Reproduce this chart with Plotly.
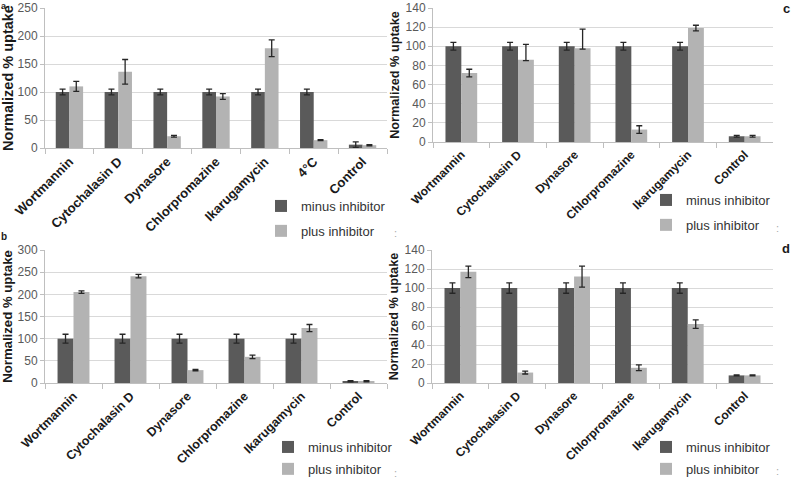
import plotly.graph_objects as go

# ---------------- data ----------------
cats_a = ["Wortmannin", "Cytochalasin D", "Dynasore", "Chlorpromazine", "Ikarugamycin", "4°C", "Control"]
minus_a = [100, 100, 100, 100, 100, 100, 6]
minus_err_a = [5, 5, 5, 5, 5, 5, 5]
plus_a = [110, 136, 21, 92, 178, 14, 5]
plus_err_up_a = [9, 22, 1.5, 5, 15, 1, 1]
plus_err_dn_a = [9, 22, 1.5, 5, 15, 1, 1]

cats_c = ["Wortmannin", "Cytochalasin D", "Dynasore", "Chlorpromazine", "Ikarugamycin", "Control"]
minus_c = [100, 100, 100, 100, 100, 6]
minus_err_c = [4, 4, 4, 4, 4, 1]
plus_c = [72, 86, 98, 13, 119, 6]
plus_err_up_c = [4, 16, 20, 4, 3, 1]
plus_err_dn_c = [4, 1, 1, 4, 3, 1]

cats_b = ["Wortmannin", "Cytochalasin D", "Dynasore", "Chlorpromazine", "Ikarugamycin", "Control"]
minus_b = [100, 100, 100, 100, 100, 4]
minus_err_b = [10, 10, 10, 10, 10, 1.5]
plus_b = [205, 241, 29, 59, 124, 4]
plus_err_up_b = [3, 4, 1.5, 4, 8, 1.5]
plus_err_dn_b = [3, 4, 1.5, 4, 8, 1.5]

cats_d = ["Wortmannin", "Cytochalasin D", "Dynasore", "Chlorpromazine", "Ikarugamycin", "Control"]
minus_d = [100, 100, 100, 100, 100, 8]
minus_err_d = [5.5, 5.5, 5.5, 5.5, 5.5, 0.5]
plus_d = [117, 11, 112, 16, 62, 8]
plus_err_up_d = [6, 1.5, 11, 3, 4.5, 0.5]
plus_err_dn_d = [6, 1.5, 11, 3, 4.5, 0.5]

y_ticks_a = [0, 50, 100, 150, 200, 250]
y_ticks_c = [0, 20, 40, 60, 80, 100, 120, 140]
y_ticks_b = [0, 50, 100, 150, 200, 250, 300]
y_ticks_d = [0, 20, 40, 60, 80, 100, 120, 140]

series_names = ["minus inhibitor", "plus inhibitor"]
panel_letters = ["a", "b", "c", "d"]

# ---------------- style ----------------
W, H = 812, 480
FONT = "Liberation Sans, Arial, sans-serif"
DARK = "#5a5a5a"
LIGHT = "#b3b3b3"
GRID = "#d9d9d9"
AXLINE = "#bfbfbf"
ERR = "#262626"


def px_x(v):
    return v / W


def px_y(v):
    return 1 - v / H


fig = go.Figure()

panels = [
    dict(n="", cats=cats_a, m=minus_a, me=minus_err_a, p=plus_a, pu=plus_err_up_a, pd=plus_err_dn_a,
         ticks=y_ticks_a, xd=(45, 387), yd=(8, 148), leg=(261, 191), gap=5, lg="legend",
         tfs=14.5, xfs=13, yfs=12, stand=3),
    dict(n="2", cats=cats_c, m=minus_c, me=minus_err_c, p=plus_c, pu=plus_err_up_c, pd=plus_err_dn_c,
         ticks=y_ticks_c, xd=(433, 773), yd=(8, 142), leg=(646, 185), gap=5, lg="legend2",
         tfs=12.7, xfs=12, yfs=12, stand=3),
    dict(n="3", cats=cats_b, m=minus_b, me=minus_err_b, p=plus_b, pu=plus_err_up_b, pd=plus_err_dn_b,
         ticks=y_ticks_b, xd=(45, 387), yd=(250, 383), leg=(268, 432), gap=2, lg="legend3",
         tfs=13.2, xfs=12.5, yfs=12, stand=3),
    dict(n="4", cats=cats_d, m=minus_d, me=minus_err_d, p=plus_d, pu=plus_err_up_d, pd=plus_err_dn_d,
         ticks=y_ticks_d, xd=(432, 773), yd=(250, 383), leg=(646, 432), gap=2, lg="legend4",
         tfs=12.7, xfs=12, yfs=12, stand=3),
]

layout_axes = {}
for pnl in panels:
    n = pnl["n"]
    xa = "x" + n
    ya = "y" + n
    for i, (vals, col, up, dn) in enumerate([
        (pnl["m"], DARK, pnl["me"], pnl["me"]),
        (pnl["p"], LIGHT, pnl["pu"], pnl["pd"]),
    ]):
        fig.add_trace(go.Bar(
            x=pnl["cats"], y=vals, name=series_names[i],
            marker=dict(color=col, line=dict(width=0)),
            error_y=dict(type="data", array=up, arrayminus=dn, symmetric=False,
                         color=ERR, thickness=1.3, width=3),
            xaxis=xa, yaxis=ya, legend=pnl["lg"],
            legendgroup=pnl["lg"] + str(i),
        ))
    layout_axes["xaxis" + n] = dict(
        domain=[px_x(pnl["xd"][0]), px_x(pnl["xd"][1])],
        anchor=ya, type="category", automargin=False,
        tickangle=-45, tickson="boundaries", ticks="outside", ticklen=5,
        tickcolor=AXLINE, showline=True, linecolor=AXLINE, linewidth=1,
        showgrid=False,
        tickfont=dict(family=FONT, size=pnl["xfs"], color="#1a1a1a", weight="bold"),
    )
    layout_axes["yaxis" + n] = dict(
        domain=[px_y(pnl["yd"][1]), px_y(pnl["yd"][0])],
        anchor=xa, range=[0, pnl["ticks"][-1]], tickvals=pnl["ticks"], automargin=False,
        showgrid=True, gridcolor=GRID, gridwidth=1, zeroline=False,
        showline=True, linecolor=AXLINE, linewidth=1,
        ticks="outside", ticklen=4, tickcolor=AXLINE,
        tickfont=dict(family=FONT, size=pnl["yfs"], color="#595959"),
        title=dict(text="Normalized % uptake", standoff=pnl["stand"],
                   font=dict(family=FONT, size=pnl["tfs"], color="#1a1a1a", weight="bold")),
    )
    layout_axes[pnl["lg"]] = dict(
        x=px_x(pnl["leg"][0]), y=px_y(pnl["leg"][1]), xanchor="left", yanchor="top",
        bgcolor="rgba(0,0,0,0)", borderwidth=0, tracegroupgap=pnl["gap"],
        font=dict(family=FONT, size=13, color="#333333"), itemwidth=30,
    )

annotations = []
letter_pos = [(0, 0, 9, "top"), (0, 236, 10, "middle"), (786, 8, 13, "middle"), (786, 248, 13, "middle")]
for letter, (lx, ly, fs, ya) in zip(panel_letters, letter_pos):
    annotations.append(dict(text=letter, x=px_x(lx), y=px_y(ly), xref="paper", yref="paper",
                            showarrow=False, xanchor="left" if lx == 0 else "center", yanchor=ya,
                            borderpad=0, font=dict(family=FONT, size=fs, color="#1a1a1a", weight="bold")))
for cx, cy in [(395, 233), (777, 228), (395, 473), (777, 471)]:
    annotations.append(dict(text=":", x=px_x(cx), y=px_y(cy), xref="paper", yref="paper",
                            showarrow=False, xanchor="center", yanchor="middle",
                            font=dict(family=FONT, size=11, color="#aaaaaa")))

fig.update_layout(
    width=W, height=H, margin=dict(l=0, r=0, t=0, b=0, autoexpand=False),
    paper_bgcolor="white", plot_bgcolor="white",
    barmode="group", bargap=0.44, bargroupgap=0,
    showlegend=True, annotations=annotations,
    font=dict(family=FONT),
    **layout_axes,
)

fig.write_html("out.html")
